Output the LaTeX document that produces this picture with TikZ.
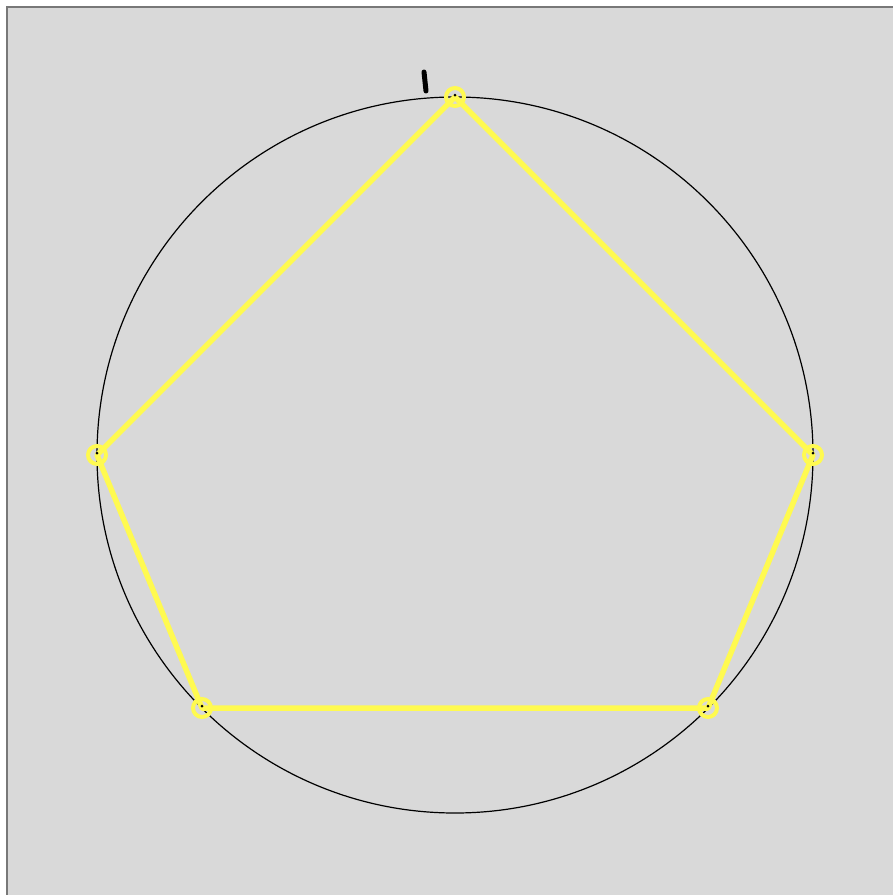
\documentclass[tikz,border=0pt]{standalone}
\definecolor{bg}{RGB}{217,217,217}
\definecolor{frameline}{RGB}{120,120,120}
\definecolor{yel}{RGB}{255,250,80}
\begin{document}
\begin{tikzpicture}[x=1pt,y=-1pt,
  edge/.style={draw=yel,line width=5.5pt,line cap=round,line join=round},
  vert/.style={circle,draw=yel,line width=4pt,minimum size=18pt,inner sep=0pt},
  vdot/.style={circle,fill=black,minimum size=3pt,inner sep=0pt}]
\useasboundingbox (0,0) rectangle (893,895);
\fill[white] (0,0) rectangle (893,895);
\fill[bg] (7,7) rectangle (893,895);
\draw[frameline,line width=1.2pt] (7,895) -- (7,7) -- (893,7);
\coordinate (c) at (455,455);
\draw[black,line width=1.2pt] (c) circle (358);
\coordinate (pt) at (455,97);
\coordinate (pr) at (813,455);
\coordinate (pbr) at (708,708);
\coordinate (pbl) at (202,708);
\coordinate (pl) at (97,455);
\draw[edge] (pt) -- (pr) -- (pbr) -- (pbl) -- (pl) -- cycle;
\foreach \p in {pt,pr,pbr,pbl,pl}{
  \node[vert] (v\p) at (\p) {};
  \node[vdot] at ([yshift=2pt]\p) {};
}
\draw[black,line width=5pt,line cap=round] (424,72) -- (426,91);
\end{tikzpicture}
\end{document}
